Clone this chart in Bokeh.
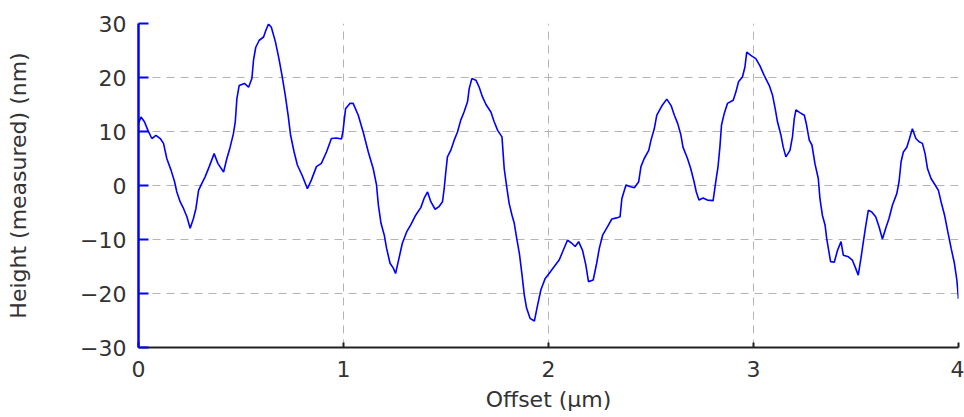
from bokeh.plotting import figure
from bokeh.models import Range1d, FixedTicker
from bokeh.embed import file_html
from bokeh.resources import INLINE

# Data
offset_um = [0.0, 0.012, 0.029, 0.046, 0.065, 0.085, 0.106, 0.122, 0.138, 0.159, 0.176, 0.187, 0.203, 0.22, 0.236, 0.252,
             0.268, 0.28, 0.293, 0.309, 0.325, 0.345, 0.369, 0.387, 0.415, 0.431, 0.447, 0.463, 0.472, 0.48, 0.491, 0.517,
             0.537, 0.553, 0.561, 0.572, 0.589, 0.61, 0.621, 0.634, 0.648, 0.668, 0.685, 0.7, 0.716, 0.73, 0.742, 0.759,
             0.775, 0.798, 0.824, 0.843, 0.868, 0.892, 0.917, 0.941, 0.966, 0.99, 0.998, 1.01, 1.031, 1.047, 1.072, 1.096,
             1.121, 1.145, 1.161, 1.17, 1.183, 1.199, 1.21, 1.227, 1.243, 1.254, 1.267, 1.287, 1.308, 1.328, 1.352, 1.377,
             1.393, 1.41, 1.426, 1.447, 1.466, 1.483, 1.491, 1.499, 1.507, 1.523, 1.54, 1.556, 1.572, 1.588, 1.605, 1.613,
             1.626, 1.646, 1.662, 1.678, 1.695, 1.719, 1.735, 1.752, 1.773, 1.784, 1.796, 1.808, 1.822, 1.833, 1.845, 1.858,
             1.871, 1.882, 1.893, 1.91, 1.931, 1.947, 1.963, 1.984, 2.003, 2.028, 2.052, 2.072, 2.093, 2.114, 2.13, 2.147,
             2.166, 2.182, 2.195, 2.218, 2.235, 2.248, 2.264, 2.288, 2.309, 2.332, 2.349, 2.358, 2.378, 2.397, 2.419, 2.44,
             2.451, 2.467, 2.489, 2.5, 2.516, 2.528, 2.541, 2.554, 2.577, 2.598, 2.614, 2.63, 2.645, 2.656, 2.678, 2.694,
             2.71, 2.721, 2.734, 2.754, 2.775, 2.803, 2.816, 2.827, 2.836, 2.844, 2.857, 2.873, 2.901, 2.914, 2.927, 2.946,
             2.958, 2.967, 2.987, 3.011, 3.031, 3.052, 3.077, 3.093, 3.106, 3.117, 3.134, 3.145, 3.158, 3.178, 3.19, 3.199,
             3.207, 3.226, 3.248, 3.259, 3.272, 3.285, 3.3, 3.316, 3.324, 3.336, 3.349, 3.357, 3.368, 3.376, 3.394, 3.41,
             3.427, 3.438, 3.463, 3.482, 3.498, 3.511, 3.524, 3.536, 3.547, 3.56, 3.577, 3.596, 3.612, 3.629, 3.645, 3.661,
             3.678, 3.699, 3.71, 3.72, 3.731, 3.748, 3.761, 3.775, 3.792, 3.808, 3.824, 3.837, 3.849, 3.866, 3.886, 3.902,
             3.915, 3.932, 3.948, 3.964, 3.98, 3.992, 4.0]
height_nm = [11.5, 12.7, 11.8, 10.2, 8.7, 9.3, 8.7, 7.8, 5.0, 2.8, 0.7, -1.2, -3.0, -4.3, -5.8, -7.9,
             -6.1, -4.3, -0.9, 0.4, 1.6, 3.5, 5.9, 4.1, 2.5, 5.0, 7.1, 9.6, 11.8, 16.1, 18.5, 18.9,
             18.2, 19.8, 23.2, 25.6, 26.9, 27.5, 28.7, 29.9, 29.3, 26.6, 23.5, 20.4, 16.7, 13.0, 9.3, 6.2,
             3.8, 1.9, -0.6, 1.0, 3.5, 4.1, 6.2, 8.7, 8.8, 8.6, 10.2, 14.2, 15.2, 15.2, 13.0, 9.9,
             6.2, 3.1, 0.1, -3.6, -7.0, -9.2, -11.6, -14.4, -15.3, -16.3, -14.1, -10.7, -8.6, -7.3, -5.5, -4.1,
             -2.4, -1.2, -3.0, -4.4, -3.9, -3.0, -0.6, 2.5, 5.3, 6.5, 8.4, 9.9, 12.1, 13.6, 15.5, 17.9,
             19.8, 19.5, 18.2, 16.4, 15.0, 13.6, 11.8, 10.2, 9.0, 3.1, -0.2, -3.3, -5.5, -7.0, -9.8, -12.6,
             -16.6, -20.3, -22.7, -24.6, -25.1, -22.1, -19.3, -17.2, -16.3, -15.0, -13.8, -12.0, -10.1, -10.7, -11.3, -10.4,
             -12.0, -14.7, -17.8, -17.5, -14.4, -11.6, -9.2, -7.6, -6.2, -6.0, -5.8, -2.4, 0.1, -0.2, -0.4, 0.7,
             3.5, 5.0, 6.5, 8.4, 10.5, 13.0, 13.9, 14.8, 16.0, 14.8, 13.0, 11.5, 9.5, 7.1, 5.0, 3.1,
             0.7, -1.2, -2.7, -2.3, -2.7, -2.8, 0.7, 3.5, 7.1, 11.2, 13.3, 15.2, 15.8, 17.3, 19.2, 20.1,
             21.9, 24.7, 24.1, 23.5, 22.2, 20.4, 18.5, 16.7, 14.2, 11.8, 9.3, 7.1, 5.3, 6.5, 9.0, 12.4,
             14.0, 13.5, 13.0, 11.2, 8.4, 7.5, 4.0, 1.3, -2.4, -5.5, -7.3, -9.8, -12.3, -14.1, -14.2, -12.0,
             -10.4, -12.9, -13.2, -13.8, -15.3, -16.6, -13.5, -10.4, -7.6, -4.6, -4.9, -5.8, -7.6, -9.9, -7.9, -6.1,
             -3.6, -1.5, 0.7, 4.4, 6.2, 7.1, 8.7, 10.5, 8.7, 8.1, 7.8, 5.9, 3.1, 1.3, 0.1, -0.9,
             -3.0, -5.5, -8.6, -11.6, -14.4, -17.5, -21.0]

x_ticks = [0, 1, 2, 3, 4]
x_tick_labels = ["0", "1", "2", "3", "4"]
y_ticks = [-30, -20, -10, 0, 10, 20, 30]
y_tick_labels = ["\u221230", "\u221220", "\u221210", "0", "10", "20", "30"]
x_label = "Offset (\u00b5m)"
y_label = "Height (measured) (nm)"

FONT = "DejaVu Sans"

p = figure(width=964, height=417, output_backend="svg", toolbar_location=None,
           x_range=Range1d(0, 4), y_range=Range1d(-30, 30),
           min_border_left=138, min_border_right=6, min_border_top=23, min_border_bottom=70)
p.outline_line_color = None
p.background_fill_color = "white"
p.border_fill_color = "white"

p.line(offset_um, height_nm, line_color="#0000ff", line_width=1.6)

# grids
for g in (p.xgrid, p.ygrid):
    g.grid_line_color = "#b4b4b4"
    g.grid_line_dash = "8 6"
    g.grid_line_width = 1
p.xgrid.ticker = FixedTicker(ticks=x_ticks)
p.ygrid.ticker = FixedTicker(ticks=y_ticks)

# x axis
xa = p.xaxis[0]
xa.ticker = FixedTicker(ticks=x_ticks, minor_ticks=[])
xa.major_label_overrides = {t: l for t, l in zip(x_ticks, x_tick_labels)}
xa.axis_line_color = "#222222"
xa.axis_line_width = 2
xa.major_tick_line_color = "#222222"
xa.major_tick_line_width = 2
xa.major_tick_in = 5
xa.major_tick_out = 0
xa.minor_tick_line_color = None
xa.major_label_standoff = 13
xa.major_label_text_font = FONT
xa.major_label_text_font_size = "22px"
xa.major_label_text_color = "#333333"
xa.axis_label = x_label
xa.axis_label_text_font = FONT
xa.axis_label_text_font_size = "22px"
xa.axis_label_text_font_style = "normal"
xa.axis_label_text_color = "#333333"
xa.axis_label_standoff = 7

# y axis
ya = p.yaxis[0]
ya.ticker = FixedTicker(ticks=y_ticks, minor_ticks=[])
ya.major_label_overrides = {t: l for t, l in zip(y_ticks, y_tick_labels)}
ya.axis_line_color = "#0000ff"
ya.axis_line_width = 2.5
ya.major_tick_line_color = "#0000ff"
ya.major_tick_line_width = 2
ya.major_tick_in = 10
ya.major_tick_out = 0
ya.minor_tick_line_color = None
ya.major_label_standoff = 12
ya.major_label_text_font = FONT
ya.major_label_text_font_size = "22px"
ya.major_label_text_color = "#333333"
ya.axis_label = y_label
ya.axis_label_text_font = FONT
ya.axis_label_text_font_size = "22px"
ya.axis_label_text_font_style = "normal"
ya.axis_label_text_color = "#333333"
ya.axis_label_standoff = 46

open("out.html", "w").write(file_html(p, INLINE))
